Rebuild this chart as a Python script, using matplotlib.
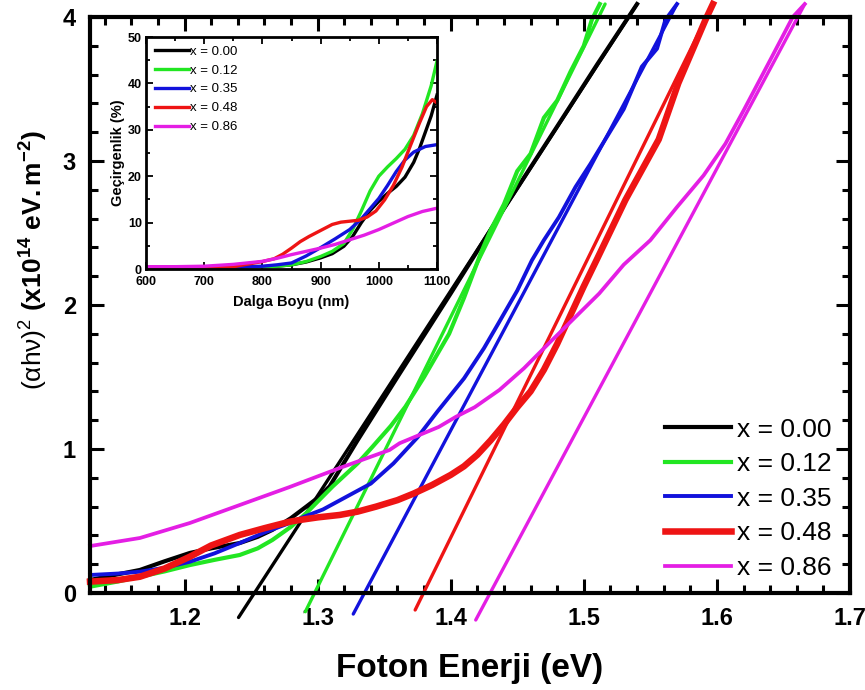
import matplotlib
matplotlib.use('Agg')
import matplotlib.pyplot as plt
from matplotlib import font_manager
from matplotlib.ticker import MultipleLocator

# Tauc plot data: photon energy (eV) vs (alpha h nu)^2 (x1e14 eV.m^-2)
labels = ['x = 0.00', 'x = 0.12', 'x = 0.35', 'x = 0.48', 'x = 0.86']
colors = ['#000000', '#22e622', '#1212dc', '#ee1414', '#e41ee4']

e_000 = [1.129, 1.15, 1.1665, 1.185, 1.204, 1.22, 1.2415, 1.255, 1.266, 1.28,
         1.2915, 1.30, 1.309, 1.33, 1.36, 1.40, 1.44, 1.48, 1.51, 1.54]
a_000 = [0.09, 0.13, 0.16, 0.22, 0.278, 0.31, 0.347, 0.39, 0.438, 0.52,
         0.60, 0.66, 0.74, 1.06, 1.50, 2.08, 2.67, 3.24, 3.67, 4.09]

e_012 = [1.129, 1.15, 1.1665, 1.185, 1.204, 1.2225, 1.2415, 1.255, 1.266, 1.28,
         1.2915, 1.3113, 1.3166, 1.33, 1.3413, 1.355, 1.366, 1.38, 1.3988, 1.41,
         1.4226, 1.43, 1.44, 1.45, 1.46, 1.47, 1.48, 1.49, 1.50, 1.506, 1.512]
a_012 = [0.044, 0.08, 0.113, 0.15, 0.194, 0.23, 0.264, 0.31, 0.368, 0.46,
         0.555, 0.74, 0.785, 0.90, 1.016, 1.16, 1.294, 1.50, 1.80, 2.05,
         2.36, 2.52, 2.70, 2.93, 3.05, 3.30, 3.42, 3.62, 3.80, 3.98, 4.09]

e_035 = [1.129, 1.15, 1.1665, 1.185, 1.204, 1.2225, 1.2415, 1.26, 1.279, 1.29,
         1.304, 1.32, 1.34, 1.357, 1.375, 1.39, 1.41, 1.425, 1.436, 1.45,
         1.461, 1.47, 1.4813, 1.4938, 1.505, 1.5188, 1.53, 1.5436, 1.555, 1.5613,
         1.57]
a_035 = [0.125, 0.135, 0.148, 0.175, 0.217, 0.275, 0.347, 0.42, 0.486, 0.53,
         0.58, 0.66, 0.76, 0.90, 1.08, 1.26, 1.49, 1.70, 1.875, 2.10,
         2.31, 2.45, 2.61, 2.82, 2.98, 3.19, 3.36, 3.655, 3.78, 3.98,
         4.09]

e_048 = [1.129, 1.15, 1.1665, 1.185, 1.204, 1.22, 1.2415, 1.26, 1.279, 1.2865,
         1.30, 1.3166, 1.33, 1.344, 1.36, 1.372, 1.386, 1.40, 1.41, 1.42,
         1.43, 1.44, 1.45, 1.46, 1.47, 1.48, 1.49, 1.50, 1.51, 1.5313,
         1.5563, 1.571, 1.5914, 1.597]
a_048 = [0.079, 0.09, 0.113, 0.17, 0.252, 0.33, 0.403, 0.45, 0.495, 0.507,
         0.525, 0.542, 0.565, 0.60, 0.645, 0.69, 0.75, 0.82, 0.88, 0.96,
         1.06, 1.17, 1.29, 1.40, 1.55, 1.73, 1.93, 2.13, 2.32, 2.73,
         3.15, 3.54, 3.98, 4.09]

e_086 = [1.129, 1.1665, 1.204, 1.2415, 1.279, 1.3166, 1.354, 1.3616, 1.391, 1.404,
         1.418, 1.429, 1.4366, 1.455, 1.474, 1.493, 1.5116, 1.53, 1.55, 1.57,
         1.59, 1.6064, 1.62, 1.64, 1.657, 1.666]
a_086 = [0.326, 0.382, 0.486, 0.611, 0.736, 0.868, 0.993, 1.04, 1.153, 1.224,
         1.29, 1.361, 1.41, 1.56, 1.736, 1.91, 2.08, 2.28, 2.45, 2.68,
         2.90, 3.12, 3.35, 3.70, 4.0, 4.09]

# linear fit segments (end points) used for the band gap extrapolation
fit_e = [[1.2406, 1.540], [1.2908, 1.516], [1.3268, 1.570], [1.3733, 1.597], [1.4188, 1.666]]
fit_a = [[-0.17, 4.09], [-0.13, 4.09], [-0.146, 4.09], [-0.118, 4.09], [-0.1875, 4.09]]

# transmittance spectra for the inset
wl_000 = [600, 650, 700, 750, 800, 825, 850, 875, 900, 920, 940, 955, 970, 985,
          1000, 1015, 1030, 1045, 1060, 1070, 1080, 1090, 1100]
t_000 = [0.4, 0.4, 0.4, 0.45, 0.5, 0.6, 0.9, 1.5, 2.4, 3.3, 4.9, 7.0, 10.0, 12.6,
         14.6, 16.3, 17.8, 19.8, 23.0, 26.0, 29.5, 33.0, 37.5]
wl_012 = [600, 650, 700, 750, 800, 825, 850, 875, 900, 920, 940, 955, 970, 985,
          1000, 1015, 1030, 1045, 1060, 1075, 1090, 1100]
t_012 = [0.4, 0.4, 0.4, 0.45, 0.5, 0.6, 0.9, 1.6, 2.7, 3.8, 5.5, 8.5, 12.5, 16.8,
         20.0, 22.0, 23.8, 25.8, 28.8, 33.5, 39.5, 44.8]
wl_035 = [600, 650, 700, 750, 800, 825, 850, 875, 900, 925, 950, 970, 985, 1000,
          1015, 1030, 1045, 1060, 1080, 1100]
t_035 = [0.3, 0.3, 0.3, 0.4, 0.6, 0.9, 1.3, 2.8, 4.6, 6.5, 8.5, 10.8, 13.0, 15.2,
         18.0, 21.0, 23.5, 25.2, 26.4, 26.8]
wl_048 = [600, 650, 700, 750, 800, 820, 835, 850, 865, 880, 900, 920, 935, 950,
          965, 980, 995, 1010, 1025, 1040, 1055, 1070, 1082, 1092, 1100]
t_048 = [0.4, 0.4, 0.4, 0.5, 1.6, 2.2, 3.2, 4.5, 5.9, 7.0, 8.3, 9.6, 10.1, 10.3,
         10.5, 11.2, 12.5, 14.9, 18.0, 22.0, 26.8, 31.5, 35.0, 36.5, 35.8]
wl_086 = [600, 650, 700, 750, 800, 825, 850, 875, 900, 925, 950, 975, 1000, 1025,
          1050, 1075, 1100]
t_086 = [0.5, 0.5, 0.6, 1.0, 1.65, 2.3, 3.1, 3.8, 4.5, 5.3, 6.3, 7.3, 8.5, 9.9,
         11.3, 12.4, 13.1]

energy = [e_000, e_012, e_035, e_048, e_086]
tauc = [a_000, a_012, a_035, a_048, a_086]
wavelength = [wl_000, wl_012, wl_035, wl_048, wl_086]
trans = [t_000, t_012, t_035, t_048, t_086]
data_lw = [3.0, 3.0, 2.8, 4.7, 2.7]

names = {f.name for f in font_manager.fontManager.ttflist}
narrow = 'Liberation Sans Narrow' if 'Liberation Sans Narrow' in names else 'Liberation Sans'

plt.rcParams['font.family'] = 'Liberation Sans'
plt.rcParams['mathtext.fontset'] = 'custom'
plt.rcParams['mathtext.rm'] = 'Liberation Sans'
plt.rcParams['mathtext.it'] = 'Liberation Sans:italic'
plt.rcParams['mathtext.bf'] = 'Liberation Sans:bold'

fig = plt.figure(figsize=(8.65, 6.9), dpi=100)
ax = fig.add_axes([90 / 865, 1 - 593 / 690, 760 / 865, 576 / 690])

for i in range(5):
    ax.plot(energy[i], tauc[i], color=colors[i], lw=data_lw[i], label=labels[i],
            clip_on=False, solid_joinstyle='round')
    ax.plot(fit_e[i], fit_a[i], color=colors[i], lw=2.4, clip_on=False,
            solid_capstyle='round')

ax.set_xlim(1.129, 1.7)
ax.set_ylim(0, 4)
ax.set_xticks([1.2, 1.3, 1.4, 1.5, 1.6, 1.7])
ax.set_xticklabels(['1.2', '1.3', '1.4', '1.5', '1.6', '1.7'])
ax.set_yticks([0, 1, 2, 3, 4])
ax.xaxis.set_minor_locator(MultipleLocator(0.02))
ax.yaxis.set_minor_locator(MultipleLocator(0.2))
ax.tick_params(which='both', direction='in', top=True, right=True, width=2.2)
ax.tick_params(which='major', length=10, pad=10)
ax.tick_params(which='minor', length=6)
for lab in ax.get_xticklabels() + ax.get_yticklabels():
    lab.set_fontfamily(narrow)
    lab.set_fontweight('bold')
    lab.set_fontsize(17)
for sp in ax.spines.values():
    sp.set_linewidth(3)

ax.set_xlabel('Foton Enerji (eV)', fontfamily=narrow, fontweight='bold',
              fontsize=28 if narrow != 'Liberation Sans' else 24, labelpad=17)
ax.set_ylabel(r'$\mathrm{(\alpha h\nu)^2\ }\mathbf{(x10^{14}\ eV.m^{-2})}$',
              fontsize=19)
ax.yaxis.set_label_coords(-0.053, 0.578)

ax.legend(loc='lower right', bbox_to_anchor=(1 - 5 / 760, 0), frameon=False,
          fontsize=19, handlelength=2.5, handletextpad=0.25, labelspacing=0.4,
          borderaxespad=0.1)

# inset: transmittance vs wavelength
axin = fig.add_axes([146 / 865, 1 - 269 / 690, 291 / 865, 232 / 690])
for i in range(5):
    axin.plot(wavelength[i], trans[i], color=colors[i], lw=2.4, label=labels[i],
              solid_joinstyle='round')
axin.set_xlim(600, 1100)
axin.set_ylim(0, 50)
axin.set_xticks([600, 700, 800, 900, 1000, 1100])
axin.set_yticks([0, 10, 20, 30, 40, 50])
axin.xaxis.set_minor_locator(MultipleLocator(50))
axin.yaxis.set_minor_locator(MultipleLocator(5))
axin.tick_params(which='both', direction='in', top=True, right=True, width=1.3)
axin.tick_params(which='major', length=5, labelsize=9)
axin.tick_params(axis='x', which='major', pad=5)
axin.tick_params(axis='y', which='major', pad=3)
axin.tick_params(which='minor', length=3)
for lab in axin.get_xticklabels() + axin.get_yticklabels():
    lab.set_fontweight('bold')
for sp in axin.spines.values():
    sp.set_linewidth(2)
axin.set_xlabel('Dalga Boyu (nm)', fontweight='bold', fontsize=10.5, labelpad=5)
axin.set_ylabel('Geçirgenlik (%)', fontweight='bold', fontsize=10.5, labelpad=2)
axin.legend(loc='upper left', frameon=False, fontsize=9.5, handlelength=2.6,
            handletextpad=0.1, labelspacing=0.5, borderaxespad=0.3, borderpad=0.35)

fig.savefig('out.png', dpi=100)
